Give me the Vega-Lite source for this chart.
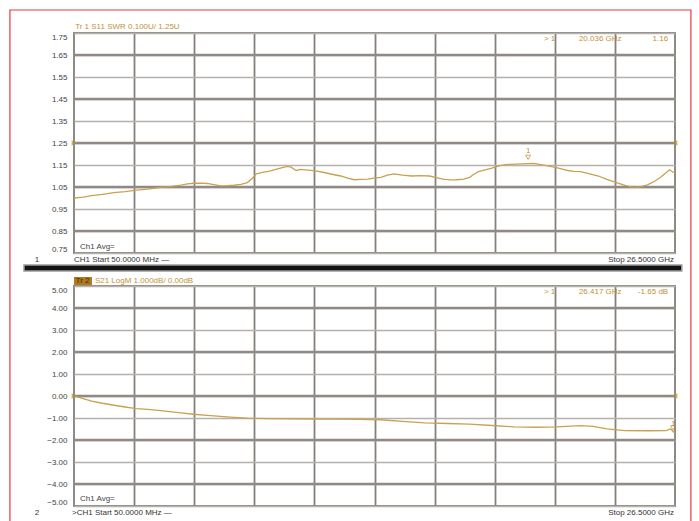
{
"$schema": "https://vega.github.io/schema/vega-lite/v6.json",
"background": "white",
"padding": {"left": 8, "top": 8, "right": 5, "bottom": 0},
"bounds": "flush",
"spacing": 33,
"config": {
  "font": "Liberation Sans",
  "view": {"stroke": "#8e8a86", "strokeWidth": 2},
  "axisX": {"title": null, "labels": false, "ticks": false, "domain": false, "grid": true, "gridColor": "#85807b", "gridWidth": 1.8},
  "axisY": {"title": null, "labelFlush": true, "labelOverlap": false, "labelColor": "#444444", "labelFontSize": 8, "labelPadding": 7, "domain": false, "ticks": false, "grid": true, "gridColor": "#b5b1ad", "gridWidth": 1.3}
},
"datasets": {
  "s11": [
    {"f":0.05,"v":1.000},{"f":0.45,"v":1.004},{"f":0.83,"v":1.011},{"f":1.3,"v":1.016},{"f":1.81,"v":1.024},{"f":2.3,"v":1.029},{"f":2.79,"v":1.036},{"f":3.3,"v":1.040},{"f":3.77,"v":1.047},{"f":4.25,"v":1.052},{"f":4.75,"v":1.059},{"f":5.05,"v":1.064},{"f":5.33,"v":1.067},{"f":5.62,"v":1.068},{"f":5.92,"v":1.066},{"f":6.2,"v":1.061},{"f":6.51,"v":1.055},{"f":6.8,"v":1.056},{"f":7.09,"v":1.058},{"f":7.4,"v":1.062},{"f":7.68,"v":1.070},{"f":7.9,"v":1.09},{"f":8.07,"v":1.110},{"f":8.35,"v":1.116},{"f":8.66,"v":1.122},{"f":9.05,"v":1.133},{"f":9.44,"v":1.144},{"f":9.6,"v":1.140},{"f":9.83,"v":1.125},{"f":10.02,"v":1.130},{"f":10.22,"v":1.128},{"f":10.6,"v":1.124},{"f":11.01,"v":1.117},{"f":11.4,"v":1.108},{"f":11.79,"v":1.100},{"f":12.1,"v":1.090},{"f":12.38,"v":1.083},{"f":12.7,"v":1.085},{"f":12.96,"v":1.086},{"f":13.25,"v":1.090},{"f":13.55,"v":1.094},{"f":13.85,"v":1.104},{"f":14.14,"v":1.110},{"f":14.5,"v":1.104},{"f":14.92,"v":1.100},{"f":15.3,"v":1.102},{"f":15.7,"v":1.100},{"f":16.0,"v":1.093},{"f":16.29,"v":1.086},{"f":16.6,"v":1.082},{"f":16.87,"v":1.083},{"f":17.2,"v":1.086},{"f":17.46,"v":1.094},{"f":17.65,"v":1.108},{"f":17.85,"v":1.120},{"f":18.15,"v":1.128},{"f":18.44,"v":1.136},{"f":18.75,"v":1.146},{"f":19.03,"v":1.152},{"f":19.5,"v":1.154},{"f":20.0,"v":1.156},{"f":20.3,"v":1.157},{"f":20.59,"v":1.152},{"f":20.9,"v":1.146},{"f":21.18,"v":1.140},{"f":21.5,"v":1.132},{"f":21.77,"v":1.125},{"f":22.05,"v":1.121},{"f":22.35,"v":1.120},{"f":22.75,"v":1.110},{"f":23.13,"v":1.100},{"f":23.5,"v":1.085},{"f":23.92,"v":1.070},{"f":24.3,"v":1.057},{"f":24.7,"v":1.047},{"f":25.0,"v":1.052},{"f":25.29,"v":1.060},{"f":25.6,"v":1.076},{"f":25.87,"v":1.094},{"f":26.05,"v":1.110},{"f":26.26,"v":1.128},{"f":26.4,"v":1.118},{"f":26.5,"v":1.114}
  ],
  "s21": [
    {"f":0.05,"v":0.00},{"f":0.45,"v":-0.12},{"f":0.83,"v":-0.23},{"f":1.3,"v":-0.33},{"f":1.81,"v":-0.42},{"f":2.3,"v":-0.50},{"f":2.79,"v":-0.57},{"f":3.3,"v":-0.61},{"f":3.77,"v":-0.65},{"f":4.25,"v":-0.71},{"f":4.75,"v":-0.77},{"f":5.3,"v":-0.83},{"f":5.92,"v":-0.88},{"f":6.5,"v":-0.93},{"f":7.09,"v":-0.97},{"f":7.68,"v":-1.01},{"f":8.66,"v":-1.03},{"f":9.6,"v":-1.04},{"f":10.6,"v":-1.05},{"f":11.6,"v":-1.05},{"f":12.57,"v":-1.06},{"f":13.55,"v":-1.08},{"f":14.5,"v":-1.15},{"f":15.5,"v":-1.22},{"f":16.5,"v":-1.25},{"f":17.46,"v":-1.28},{"f":18.44,"v":-1.34},{"f":19.4,"v":-1.40},{"f":20.4,"v":-1.42},{"f":21.3,"v":-1.40},{"f":22.35,"v":-1.35},{"f":22.9,"v":-1.38},{"f":23.5,"v":-1.49},{"f":24.3,"v":-1.57},{"f":25.3,"v":-1.58},{"f":26.1,"v":-1.57},{"f":26.3,"v":-1.50},{"f":26.5,"v":-1.69}
  ],
  "grid_top": [{"g": 1.65}, {"g": 1.45}, {"g": 1.25}, {"g": 1.05}, {"g": 0.85}],
  "grid_bottom": [{"g": 4}, {"g": 2}, {"g": 0}, {"g": -2}, {"g": -4}]
},
"vconcat": [
  {
    "width": 601, "height": 220,
    "layer": [
      {"data": {"values": [{}]}, "mark": {"type": "rect", "fill": null, "fillOpacity": 0, "stroke": "#e8383d", "strokeWidth": 1.2},
       "encoding": {"x": {"datum": -2.77, "type": "quantitative"}, "x2": {"datum": 27.2}, "y": {"datum": 1.8545, "type": "quantitative"}, "y2": {"datum": -0.5}}},
      {"data": {"name": "grid_top"}, "mark": {"type": "rule", "color": "#8f8a86", "strokeWidth": 2.5},
       "encoding": {"y": {"field": "g", "type": "quantitative"}}},
      {"data": {"name": "s11"}, "mark": {"type": "line", "color": "#c9a150", "strokeWidth": 1.3},
       "encoding": {
         "x": {"field": "f", "type": "quantitative", "scale": {"domain": [0.05, 26.5], "nice": false, "zero": false},
               "axis": {"values": [2.695, 5.34, 7.985, 10.63, 13.275, 15.92, 18.565, 21.21, 23.855]}},
         "y": {"field": "v", "type": "quantitative", "scale": {"domain": [0.75, 1.75], "nice": false, "zero": false},
               "axis": {"values": [1.75,1.65,1.55,1.45,1.35,1.25,1.15,1.05,0.95,0.85,0.75], "format": ".2f", "labelOverlap": false, "labelBound": false, "labelSeparation": 0, "tickCount": 11}}}},
      {"data": {"values": [{}]}, "mark": {"type": "point", "shape": "triangle-right", "filled": true, "size": 30, "color": "#c08a20"},
       "encoding": {"x": {"datum": 0.05, "type": "quantitative"}, "y": {"datum": 1.25, "type": "quantitative"}}},
      {"data": {"values": [{}]}, "mark": {"type": "point", "shape": "triangle-left", "filled": true, "size": 30, "color": "#c08a20"},
       "encoding": {"x": {"datum": 26.5, "type": "quantitative"}, "y": {"datum": 1.25, "type": "quantitative"}}},
      {"data": {"values": [{}]}, "mark": {"type": "point", "shape": "triangle-down", "filled": false, "size": 25, "color": "#b88a30", "strokeWidth": 1},
       "encoding": {"x": {"datum": 20.036, "type": "quantitative"}, "y": {"datum": 1.185, "type": "quantitative"}}},
      {"data": {"values": [{}]}, "mark": {"type": "text", "fontSize": 7, "color": "#b88a30", "baseline": "middle"},
       "encoding": {"x": {"datum": 20.036, "type": "quantitative"}, "y": {"datum": 1.215, "type": "quantitative"}, "text": {"value": "1"}}},
      {"data": {"values": [{}]}, "mark": {"type": "text", "fontSize": 8, "color": "#c0923a", "align": "left", "baseline": "middle", "dy": -6},
       "encoding": {"x": {"datum": 0.1, "type": "quantitative"}, "y": {"datum": 1.75, "type": "quantitative"}, "text": {"value": "Tr 1  S11 SWR 0.100U/ 1.25U"}}},
      {"data": {"values": [{}]}, "mark": {"type": "text", "fontSize": 8, "color": "#c0923a", "align": "left", "baseline": "middle", "dy": 6},
       "encoding": {"x": {"datum": 20.73, "type": "quantitative"}, "y": {"datum": 1.75, "type": "quantitative"}, "text": {"value": "> 1"}}},
      {"data": {"values": [{}]}, "mark": {"type": "text", "fontSize": 8, "color": "#c0923a", "align": "left", "baseline": "middle", "dy": 6},
       "encoding": {"x": {"datum": 22.27, "type": "quantitative"}, "y": {"datum": 1.75, "type": "quantitative"}, "text": {"value": "20.036 GHz"}}},
      {"data": {"values": [{}]}, "mark": {"type": "text", "fontSize": 8, "color": "#c0923a", "align": "right", "baseline": "middle", "dy": 6},
       "encoding": {"x": {"datum": 26.2, "type": "quantitative"}, "y": {"datum": 1.75, "type": "quantitative"}, "text": {"value": "1.16"}}},
      {"data": {"values": [{}]}, "mark": {"type": "text", "fontSize": 8, "color": "#444444", "align": "left", "baseline": "middle", "dx": 6, "dy": -6},
       "encoding": {"x": {"datum": 0.05, "type": "quantitative"}, "y": {"datum": 0.75, "type": "quantitative"}, "text": {"value": "Ch1 Avg="}}},
      {"data": {"values": [{}]}, "mark": {"type": "text", "fontSize": 8, "color": "#333333", "align": "left", "baseline": "middle", "dy": 7},
       "encoding": {"x": {"datum": 0.05, "type": "quantitative"}, "y": {"datum": 0.75, "type": "quantitative"}, "text": {"value": "CH1 Start 50.0000 MHz  —"}}},
      {"data": {"values": [{}]}, "mark": {"type": "text", "fontSize": 8, "color": "#333333", "align": "center", "baseline": "middle", "dx": -37, "dy": 7},
       "encoding": {"x": {"datum": 0.05, "type": "quantitative"}, "y": {"datum": 0.75, "type": "quantitative"}, "text": {"value": "1"}}},
      {"data": {"values": [{}]}, "mark": {"type": "text", "fontSize": 8, "color": "#333333", "align": "right", "baseline": "middle", "dx": -1, "dy": 7},
       "encoding": {"x": {"datum": 26.5, "type": "quantitative"}, "y": {"datum": 0.75, "type": "quantitative"}, "text": {"value": "Stop 26.5000 GHz"}}}
    ]
  },
  {
    "width": 601, "height": 220,
    "layer": [
      {"data": {"values": [{}]}, "mark": {"type": "rect", "color": "#141414", "stroke": "#9a9a9a", "strokeWidth": 1.5},
       "encoding": {"x": {"datum": -2.15, "type": "quantitative"}, "x2": {"datum": 26.8}, "y": {"datum": 5.955, "type": "quantitative"}, "y2": {"datum": 5.68}}},
      {"data": {"values": [{}]}, "mark": {"type": "rect", "color": "#b07a1a"},
       "encoding": {"x": {"datum": 0.05, "type": "quantitative"}, "x2": {"datum": 0.84}, "y": {"datum": 5.41, "type": "quantitative"}, "y2": {"datum": 5.045}}},
      {"data": {"name": "grid_bottom"}, "mark": {"type": "rule", "color": "#8f8a86", "strokeWidth": 2.5},
       "encoding": {"y": {"field": "g", "type": "quantitative"}}},
      {"data": {"name": "s21"}, "mark": {"type": "line", "color": "#c9a150", "strokeWidth": 1.3},
       "encoding": {
         "x": {"field": "f", "type": "quantitative", "scale": {"domain": [0.05, 26.5], "nice": false, "zero": false},
               "axis": {"values": [2.695, 5.34, 7.985, 10.63, 13.275, 15.92, 18.565, 21.21, 23.855]}},
         "y": {"field": "v", "type": "quantitative", "scale": {"domain": [-5, 5], "nice": false, "zero": false},
               "axis": {"values": [5,4,3,2,1,0,-1,-2,-3,-4,-5], "format": ".2f", "labelOverlap": false, "labelBound": false, "labelSeparation": 0, "tickCount": 11}}}},
      {"data": {"values": [{}]}, "mark": {"type": "point", "shape": "triangle-right", "filled": true, "size": 30, "color": "#c08a20"},
       "encoding": {"x": {"datum": 0.05, "type": "quantitative"}, "y": {"datum": 0, "type": "quantitative"}}},
      {"data": {"values": [{}]}, "mark": {"type": "point", "shape": "triangle-left", "filled": true, "size": 30, "color": "#c08a20"},
       "encoding": {"x": {"datum": 26.5, "type": "quantitative"}, "y": {"datum": 0, "type": "quantitative"}}},
      {"data": {"values": [{}]}, "mark": {"type": "point", "shape": "triangle-down", "filled": false, "size": 25, "color": "#b88a30", "strokeWidth": 1},
       "encoding": {"x": {"datum": 26.417, "type": "quantitative"}, "y": {"datum": -1.45, "type": "quantitative"}}},
      {"data": {"values": [{}]}, "mark": {"type": "text", "fontSize": 7, "color": "#b88a30", "baseline": "middle"},
       "encoding": {"x": {"datum": 26.417, "type": "quantitative"}, "y": {"datum": -1.28, "type": "quantitative"}, "text": {"value": "1"}}},
      {"data": {"values": [{}]}, "mark": {"type": "text", "fontSize": 8, "color": "#3a2a10", "align": "left", "baseline": "middle"},
       "encoding": {"x": {"datum": 0.12, "type": "quantitative"}, "y": {"datum": 5.23, "type": "quantitative"}, "text": {"value": "Tr 2"}}},
      {"data": {"values": [{}]}, "mark": {"type": "text", "fontSize": 8, "color": "#c0923a", "align": "left", "baseline": "middle"},
       "encoding": {"x": {"datum": 0.97, "type": "quantitative"}, "y": {"datum": 5.23, "type": "quantitative"}, "text": {"value": "S21 LogM 1.000dB/ 0.00dB"}}},
      {"data": {"values": [{}]}, "mark": {"type": "text", "fontSize": 8, "color": "#c0923a", "align": "left", "baseline": "middle", "dy": 6},
       "encoding": {"x": {"datum": 20.73, "type": "quantitative"}, "y": {"datum": 5, "type": "quantitative"}, "text": {"value": "> 1"}}},
      {"data": {"values": [{}]}, "mark": {"type": "text", "fontSize": 8, "color": "#c0923a", "align": "left", "baseline": "middle", "dy": 6},
       "encoding": {"x": {"datum": 22.27, "type": "quantitative"}, "y": {"datum": 5, "type": "quantitative"}, "text": {"value": "26.417 GHz"}}},
      {"data": {"values": [{}]}, "mark": {"type": "text", "fontSize": 8, "color": "#c0923a", "align": "right", "baseline": "middle", "dy": 6},
       "encoding": {"x": {"datum": 26.2, "type": "quantitative"}, "y": {"datum": 5, "type": "quantitative"}, "text": {"value": "-1.65 dB"}}},
      {"data": {"values": [{}]}, "mark": {"type": "text", "fontSize": 8, "color": "#444444", "align": "left", "baseline": "middle", "dx": 6, "dy": -7},
       "encoding": {"x": {"datum": 0.05, "type": "quantitative"}, "y": {"datum": -5, "type": "quantitative"}, "text": {"value": "Ch1 Avg="}}},
      {"data": {"values": [{}]}, "mark": {"type": "text", "fontSize": 8, "color": "#333333", "align": "left", "baseline": "middle", "dx": -2, "dy": 7},
       "encoding": {"x": {"datum": 0.05, "type": "quantitative"}, "y": {"datum": -5, "type": "quantitative"}, "text": {"value": ">CH1 Start 50.0000 MHz  —"}}},
      {"data": {"values": [{}]}, "mark": {"type": "text", "fontSize": 8, "color": "#333333", "align": "center", "baseline": "middle", "dx": -37, "dy": 7},
       "encoding": {"x": {"datum": 0.05, "type": "quantitative"}, "y": {"datum": -5, "type": "quantitative"}, "text": {"value": "2"}}},
      {"data": {"values": [{}]}, "mark": {"type": "text", "fontSize": 8, "color": "#333333", "align": "right", "baseline": "middle", "dx": -1, "dy": 7},
       "encoding": {"x": {"datum": 26.5, "type": "quantitative"}, "y": {"datum": -5, "type": "quantitative"}, "text": {"value": "Stop 26.5000 GHz"}}}
    ]
  }
]
}
